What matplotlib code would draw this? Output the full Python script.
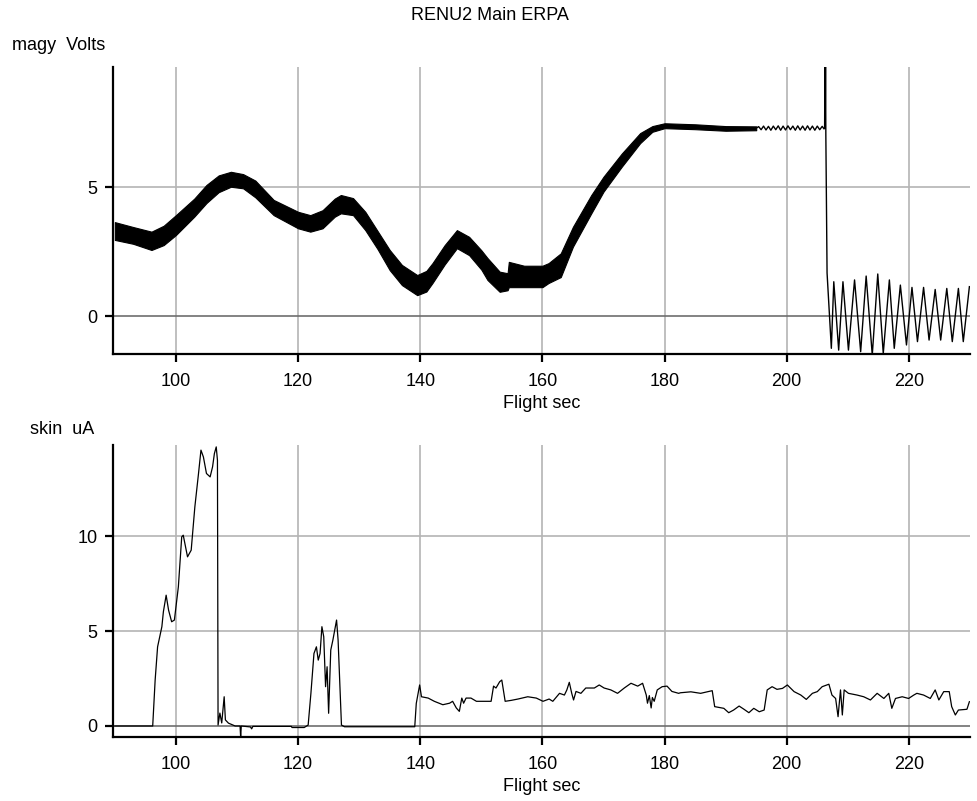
import matplotlib
matplotlib.use('Agg')
import matplotlib.pyplot as plt

plt.rcParams['font.family'] = ['Liberation Sans', 'DejaVu Sans']
plt.rcParams['font.size'] = 13

# magy: thick oscillating band, read as lower/upper envelope
band_t = [90, 93, 96, 98, 100, 103, 105, 107, 109, 111, 113, 116, 120, 122, 124, 126, 127,
          129, 131, 133, 135, 137, 139.5, 141, 142, 144, 146, 148, 150, 151, 153, 154.3,
          154.5, 157, 160, 161, 163, 165, 168, 170, 173, 176, 178, 180, 185, 190, 195]
band_hi = [3.64, 3.45, 3.27, 3.5, 3.91, 4.55, 5.08, 5.45, 5.59, 5.5, 5.25, 4.5, 4.04, 3.91,
           4.1, 4.55, 4.69, 4.57, 4.04, 3.3, 2.56, 1.98, 1.59, 1.75, 2.05, 2.75, 3.33, 3.07,
           2.55, 2.25, 1.72, 1.66, 2.1, 1.95, 1.95, 2.05, 2.43, 3.46, 4.69, 5.4, 6.3, 7.09,
           7.36, 7.47, 7.43, 7.36, 7.35]
band_lo = [2.95, 2.8, 2.56, 2.75, 3.14, 3.85, 4.38, 4.8, 5.01, 4.95, 4.6, 3.91, 3.4, 3.27,
           3.4, 3.85, 3.98, 3.91, 3.33, 2.6, 1.78, 1.2, 0.81, 0.95, 1.28, 2.0, 2.63, 2.36,
           1.8, 1.4, 0.94, 1.0, 1.12, 1.12, 1.12, 1.28, 1.51, 2.69, 3.98, 4.82, 5.79, 6.7,
           7.14, 7.28, 7.24, 7.18, 7.2]

# magy: thin part after the band (ripple, spike, then slow oscillation)
magy_t = [195.0, 195.4, 195.8, 196.2, 196.6, 197.0, 197.4, 197.8, 198.2, 198.6, 199.0,
          199.4, 199.8, 200.2, 200.6, 201.0, 201.4, 201.8, 202.2, 202.6, 203.0, 203.4,
          203.8, 204.2, 204.6, 205.0, 205.4, 205.8, 206.1, 206.2, 206.25, 206.3, 206.35,
          206.4, 206.6, 207.3, 207.7, 208.5, 209.2, 210.1, 211.1, 212.1, 213.0, 214.0,
          214.9, 215.8, 216.8, 217.6, 218.6, 219.6, 220.5, 221.4, 222.4, 223.3, 224.3,
          225.2, 226.2, 227.1, 228.1, 228.9, 229.9]
magy_v = [7.28, 7.34, 7.22, 7.36, 7.21, 7.35, 7.2, 7.36, 7.22, 7.37, 7.2, 7.36, 7.21, 7.37,
          7.22, 7.36, 7.2, 7.37, 7.21, 7.36, 7.2, 7.37, 7.21, 7.36, 7.2, 7.36, 7.22, 7.35,
          7.25, 7.3, 9.9, 7.3, 9.9, 7.0, 1.67, -1.25, 1.33, -1.32, 1.33, -1.32, 1.40, -1.38,
          1.55, -1.51, 1.63, -1.45, 1.40, -1.25, 1.20, -1.12, 1.11, -0.99, 1.11, -0.93,
          1.03, -0.93, 1.07, -0.99, 1.07, -0.99, 1.14]

skin_t = [90, 96.2, 96.6, 97.0, 97.7, 97.95, 98.4, 98.8, 99.3, 99.75, 100.4, 100.95, 101.2,
          101.9, 102.5, 103.1, 103.7, 104.1, 104.5, 105.0, 105.6, 106.0, 106.3, 106.6, 106.8,
          106.9, 107.2, 107.5, 107.9, 108.1, 108.6, 109.7, 110.5, 110.6, 110.7, 112.2, 112.4,
          112.6, 118.9, 119.0, 121.0, 121.65, 122.1, 122.35, 122.6, 123.0, 123.3, 123.6,
          123.9, 124.2, 124.5, 124.75, 125.0, 125.35, 125.7, 126.3, 126.55, 127.1, 127.6,
          139.1, 139.35, 139.9, 140.2, 141.3, 142.3, 143.7, 144.8, 145.3, 145.9, 146.4, 146.8,
          147.1, 147.5, 148.3, 149.2, 150.5, 151.6, 152.0, 152.4, 153.0, 153.35, 153.9, 154.9,
          156.0, 157.6, 159.0, 160.1, 161.1, 161.7, 162.8, 163.6, 164.0, 164.4, 164.8, 165.1,
          165.5, 166.3, 167.1, 168.5, 169.3, 170.1, 171.2, 172.3, 173.4, 174.5, 175.6, 176.4,
          177.0, 177.2, 177.5, 177.8, 178.0, 178.3, 178.8, 179.6, 180.4, 181.2, 182.3, 182.6,
          184.3, 185.9, 187.8, 188.2, 189.7, 190.5, 191.3, 192.2, 193.0, 193.8, 194.6, 195.5,
          196.3, 196.8, 197.6, 198.4, 199.3, 200.1, 201.2, 202.3, 203.2, 204.2, 205.0, 205.8,
          206.9, 207.4, 208.0, 208.4, 208.8, 209.1, 209.4, 210.1, 211.5, 212.6, 213.7, 214.8,
          215.9, 216.7, 217.2, 217.8, 218.9, 219.95, 220.8, 221.3, 222.4, 223.5, 224.3,
          224.9, 225.7, 226.6, 227.0, 227.6, 228.1, 229.5, 229.9]
skin_v = [0, 0, 2.42, 4.17, 5.23, 6.02, 6.89, 6.1, 5.49, 5.58, 7.33, 9.96, 10.05, 8.91, 9.26,
          11.54, 13.3, 14.53, 14.17, 13.3, 13.12, 13.65, 14.35, 14.7, 14.0, 0.05, 0.68, 0.16,
          1.54, 0.32, 0.15, 0, 0, -0.6, 0, -0.05, -0.15, -0.02, -0.02, -0.08, -0.08, 0.05,
          1.72, 2.77, 3.82, 4.17, 3.47, 3.82, 5.23, 4.7, 2.07, 3.12, 0.67, 4.0, 4.53, 5.58,
          4.53, 0.05, -0.04, -0.04, 1.19, 2.16, 1.54, 1.47, 1.3, 1.12, 1.2, 1.3, 0.95, 0.77,
          1.47, 1.2, 1.47, 1.47, 1.3, 1.3, 1.3, 2.1, 2.0, 2.33, 2.42, 1.3, 1.35, 1.42, 1.54,
          1.47, 1.3, 1.42, 1.3, 1.72, 1.63, 1.9, 2.3, 1.72, 1.37, 1.82, 1.72, 2.0, 2.0, 2.16,
          2.0, 1.9, 1.72, 2.0, 2.25, 2.1, 2.25, 1.63, 1.2, 1.6, 0.95, 1.5, 1.3, 1.9, 2.07, 2.1,
          1.82, 1.72, 1.75, 1.8, 1.72, 1.86, 1.02, 0.93, 0.7, 0.84, 1.05, 0.88, 0.7, 0.93,
          0.75, 0.84, 1.9, 2.07, 1.93, 1.98, 2.16, 1.81, 1.63, 1.4, 1.72, 1.81, 2.07, 2.2, 1.63,
          1.45, 0.49, 1.9, 0.58, 1.9, 1.72, 1.63, 1.54, 1.37, 1.72, 1.45, 1.72, 0.93, 1.45,
          1.54, 1.45, 1.63, 1.72, 1.63, 1.45, 1.9, 1.37, 1.81, 1.81, 1.02, 0.58, 0.84, 0.88,
          1.28]

xticks = [100, 120, 140, 160, 180, 200, 220]

W, H = 978, 801
fig = plt.figure(figsize=(W / 100, H / 100), dpi=100)
ax1 = fig.add_axes([113 / W, 1 - 354 / H, 857 / W, 287 / H])
ax2 = fig.add_axes([113 / W, 1 - 737 / H, 857 / W, 292 / H])


def style(ax, ylim, yticks):
    ax.set_xlim(89.7, 230)
    ax.set_ylim(*ylim)
    ax.set_xticks(xticks)
    ax.set_yticks(yticks)
    for x in xticks:
        ax.axvline(x, color='#b4b4b4', lw=1.2, zorder=0)
    for y in yticks:
        if y != 0:
            ax.axhline(y, color='#b4b4b4', lw=1.2, zorder=0)
    ax.axhline(0, color='#6e6e6e', lw=1.2, zorder=0)
    for s in ['top', 'right']:
        ax.spines[s].set_visible(False)
    for s in ['left', 'bottom']:
        ax.spines[s].set_linewidth(1.6)
    ax.tick_params(axis='x', direction='out', length=6, width=1.6, labelsize=13, pad=8)
    ax.tick_params(axis='y', direction='out', length=6, width=1.6, labelsize=13, pad=5)
    ax.set_xlabel('Flight sec', fontsize=13, labelpad=3)


style(ax1, (-1.47, 9.65), [0, 5])
ax1.fill_between(band_t, band_lo, band_hi, color='black', lw=0.8)
ax1.plot(magy_t, magy_v, color='black', lw=1.0)

style(ax2, (-0.58, 14.8), [0, 5, 10])
ax2.plot(skin_t, skin_v, color='black', lw=0.9)

fig.text(490 / W, 1 - 15 / H, 'RENU2 Main ERPA', ha='center', va='center', fontsize=13)
fig.text(12 / W, 1 - 45 / H, 'magy  Volts', ha='left', va='center', fontsize=13)
fig.text(30 / W, 1 - 430 / H, 'skin  uA', ha='left', va='center', fontsize=13)

fig.savefig('out.png', dpi=100)
